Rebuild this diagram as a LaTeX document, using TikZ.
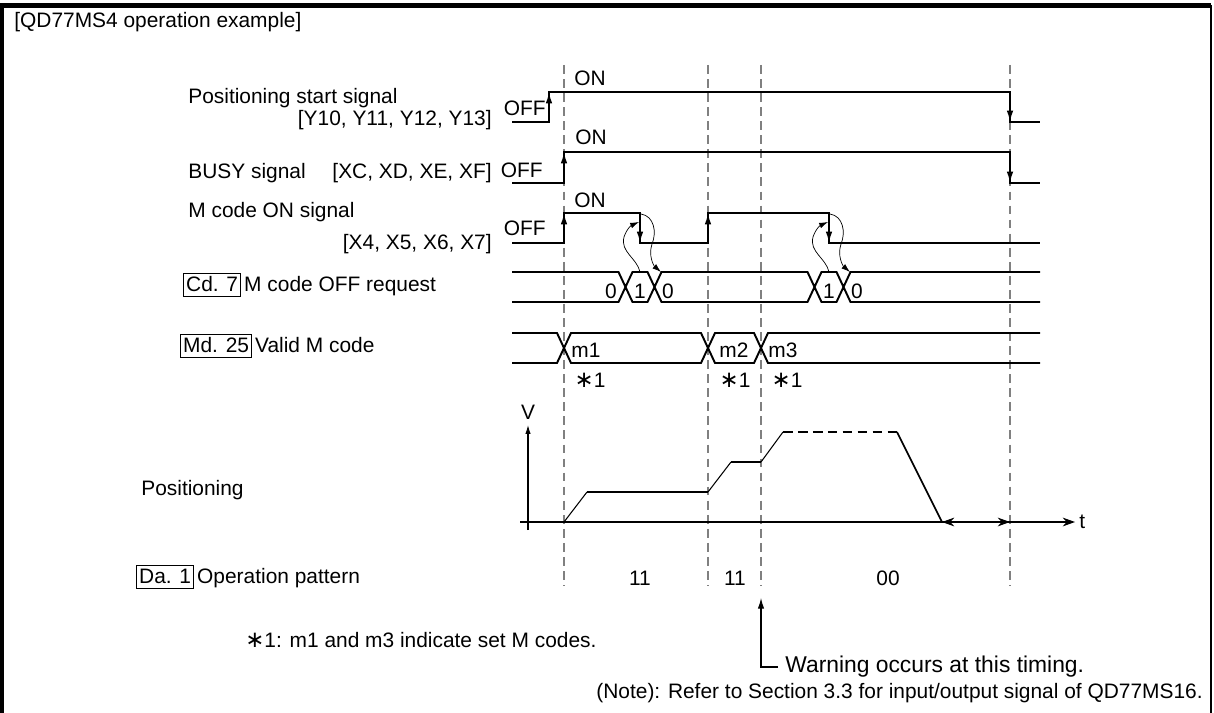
\documentclass[tikz,border=0pt]{standalone}
\usepackage{fontspec}
\setmainfont{Liberation Sans}
\newfontfamily\symfont{DejaVu Sans}
\usepackage{tikz}
\usetikzlibrary{positioning,arrows.meta,calc}
\definecolor{GuideGray}{HTML}{808080}
\definecolor{InkBlack}{HTML}{000000}
\newcommand{\starmark}{{\symfont\fontsize{13}{14}\selectfont ∗}}
\tikzset{
  lbl/.style={font=\fontsize{11.9}{14}\selectfont, inner sep=0pt, text=InkBlack},
  tag/.style={lbl, draw=InkBlack, line width=0.6pt, inner xsep=1.5pt, inner ysep=3pt,
    text height=0.72em, text depth=0pt},
  sig/.style={InkBlack, line width=1.1pt},
  sigedge/.style={InkBlack, line width=1.1pt, -{Latex[length=6.5pt,width=3.8pt]}},
  guide/.style={GuideGray, line width=0.8pt, dash pattern=on 5pt off 3pt},
  hint/.style={InkBlack, line width=0.4pt, -{Latex[length=5pt,width=3.2pt]}},
  axisline/.style={InkBlack, line width=0.6pt},
  ramp/.style={InkBlack, line width=0.6pt},
}

\begin{document}
\begin{tikzpicture}[x=0.02cm, y=-0.02cm]
  \useasboundingbox (0,0) rectangle (1214,713);
  % frame
  \draw[line width=2.3pt] (2,713) -- (2,5.5) -- (1211,5.5);
  \draw[line width=1.5pt] (1211,5) -- (1211,713);

  % timing guides
  \foreach \x in {564,708,761,1010}
    \draw[guide] (\x,65) -- (\x,586);

  % labels on the left
  \node[lbl, anchor=west] (title) at (14,22) {[QD77MS4 operation example]};
  \node[lbl, anchor=west] (pss) at (188,98) {Positioning start signal};
  \node[lbl, anchor=east] (pssdev) at (492,120) {[Y10, Y11, Y12, Y13]};
  \node[lbl, anchor=west] (busy) at (188,173) {BUSY signal};
  \node[lbl, anchor=east] (busydev) at (492,173) {[XC, XD, XE, XF]};
  \node[lbl, anchor=west] (mon) at (188,212) {M code ON signal};
  \node[lbl, anchor=east] (mondev) at (492,244) {[X4, X5, X6, X7]};
  \node[lbl, anchor=west] (pos) at (141,490) {Positioning};
  \foreach \name/\x/\y/\tg/\desc in {
    cd/183/285/{Cd. 7}/{M code OFF request},
    md/180/346/{Md. 25}/{Valid M code},
    da/136/577/{Da. 1}/{Operation pattern}
  }{
    \node[tag, anchor=west] (\name) at (\x,\y) {\tg};
    \node[lbl, anchor=base west] (\name-d) at ([xshift=1.5pt]\name.base east) {\desc};
  }

  % ON / OFF levels
  \foreach \name/\xon/\yon/\xoff/\yoff in {pa/574/78/546/108, pb/575/137/543/170, pc/574/200/546/228}{
    \node[lbl, anchor=west] (\name-on) at (\xon,\yon) {ON};
    \node[lbl, anchor=east] (\name-off) at (\xoff,\yoff) {OFF};
  }

  % positioning start signal
  \draw[sig] (512,122) -| (549,92) -| (1010,122) -- (1040,122);
  \draw[sigedge] (549,122) -- (549,92);
  \draw[sigedge] (1010,92) -- (1010,122);
  % BUSY signal
  \draw[sig] (512,183) -| (564,152) -| (1010,183) -- (1040,183);
  \draw[sigedge] (564,183) -- (564,152);
  \draw[sigedge] (1010,152) -- (1010,183);
  % M code ON signal
  \draw[sig] (512,243) -| (564,213) -| (640,243) -| (708,213) -| (829,243) -- (1040,243);
  \foreach \x in {564,708} \draw[sigedge] (\x,243) -- (\x,213);
  \foreach \x in {640,829} \draw[sigedge] (\x,213) -- (\x,243);

  % M code OFF request band
  \foreach \e in {272,302}
    \draw[sig] (512,\e) foreach \c in {625.5,654.5,814.5,843.5} { -- (\c-7,\e) -- (\c,287) -- (\c+7,\e) } -- (1040,\e);
  \foreach \name/\x/\v in {qa/611/0, qb/640/1, qc/668/0, qd/829/1, qe/857/0}
    \node[lbl] (\name) at (\x,291) {\v};

  % handshake loops
  \foreach \f in {640,829}{
    \draw[hint] (\f,272) .. controls (\f-3,258) and (\f-20,252) .. (\f-16,237)
      .. controls (\f-13,228) and (\f-8,225) .. (\f-1,222);
    \draw[hint] (\f+1,214) .. controls (\f+14,216) and (\f+17,232) .. (\f+12,244)
      .. controls (\f+8,256) and (\f+14,266) .. (\f+21,272);
  }

  % valid M code band
  \foreach \e in {333,363}
    \draw[sig] (512,\e) foreach \c in {564,708,761} { -- (\c-7,\e) -- (\c,348) -- (\c+7,\e) } -- (1040,\e);
  \node[lbl, anchor=west] (ma) at (571,350) {m1};
  \node[lbl] (mb) at (734,350) {m2};
  \node[lbl, anchor=west] (mc) at (768,350) {m3};
  \foreach \name/\x in {sa/590, sb/735, sc/787}
    \node[lbl] (\name) at (\x,380) {\starmark1};

  % speed profile
  \draw[axisline, -{Latex[length=5pt,width=3pt]}] (528,530) -- (528,425);
  \node[lbl] (vlab) at (528,412) {V};
  \draw[axisline, -{Stealth[length=7pt,width=5pt]}] (520,522) -- (1075,522);
  \node[lbl, anchor=west] (tlab) at (1079,522) {t};
  \draw[axisline, {Stealth[length=7pt,width=5pt]}-{Stealth[length=7pt,width=5pt]}] (942,522) -- (1010,522);
  \draw[ramp] (564,522) -- (587,492);
  \draw[sig] (587,492) -- (708,492);
  \draw[ramp] (708,492) -- (731,462);
  \draw[sig] (731,462) -- (761,462);
  \draw[ramp] (761,462) -- (783,432);
  \draw[sig, dash pattern=on 5.5pt off 3pt] (783,432) -- (897,432);
  \draw[InkBlack, line width=0.9pt] (897,432) -- (942,522);

  % operation pattern
  \foreach \name/\x/\v in {oa/640/11, ob/735/11, oc/888/00}
    \node[lbl] (\name) at (\x,578) {\v};

  % notes
  \node[lbl, anchor=west] (foot) at (245,640) {\starmark1: m1 and m3 indicate set M codes.};
  \node[lbl, anchor=west, font=\fontsize{13}{15}\selectfont] (warn) at (785,667) {Warning occurs at this timing.};
  \coordinate (warnTip) at (761,598);
  \draw[InkBlack, line width=0.6pt, -{Latex[length=6pt,width=3.6pt]}] (warn.west) ++(-7,0) -| (warnTip);
  \node[lbl, anchor=east] (note) at (1203,693) {(Note): Refer to Section 3.3 for input/output signal of QD77MS16.};
\end{tikzpicture}
\end{document}
